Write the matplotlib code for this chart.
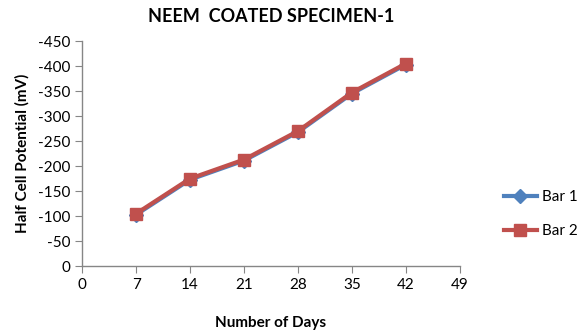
import matplotlib
matplotlib.use("Agg")
import matplotlib.pyplot as plt

days = [7, 14, 21, 28, 35, 42]
bar1 = [-103, -173, -211, -268, -345, -403]
bar2 = [-105, -175, -213, -270, -347, -405]
xticks = [0, 7, 14, 21, 28, 35, 42, 49]
yticks = [0, -50, -100, -150, -200, -250, -300, -350, -400, -450]

plt.rcParams['font.family'] = ['Lato', 'DejaVu Sans']

fig = plt.figure(figsize=(5.79, 3.31), dpi=100)
ax = fig.add_axes([0.142, 0.196, 0.652, 0.68])

ax.plot(days, bar1, color='#4F81BD', lw=3, marker='D', markersize=7, label='Bar 1')
ax.plot(days, bar2, color='#C0504D', lw=3, marker='s', markersize=8, label='Bar 2')

ax.set_xlim(0, 49)
ax.set_ylim(0, -450)
ax.set_xticks(xticks)
ax.set_yticks(yticks)
ax.set_yticklabels([str(v) for v in yticks])

for s in ['top', 'right']:
    ax.spines[s].set_visible(False)
for s in ['left', 'bottom']:
    ax.spines[s].set_color('#868686')
    ax.spines[s].set_linewidth(1)
ax.tick_params(axis='both', colors='#868686', labelcolor='black', labelsize=11, length=5, direction='out')

ax.set_title('NEEM  COATED SPECIMEN-1', fontsize=13, fontweight='bold', pad=14)
ax.set_xlabel('Number of Days', fontsize=11, fontweight='bold', labelpad=17)
ax.set_ylabel('Half Cell Potential (mV)', fontsize=11, fontweight='bold', labelpad=6)

leg = ax.legend(loc='center left', bbox_to_anchor=(1.08, 0.23), frameon=False,
                fontsize=11, handlelength=2.2, labelspacing=1.3, handletextpad=0.3)

fig.savefig('out.png', dpi=100)
